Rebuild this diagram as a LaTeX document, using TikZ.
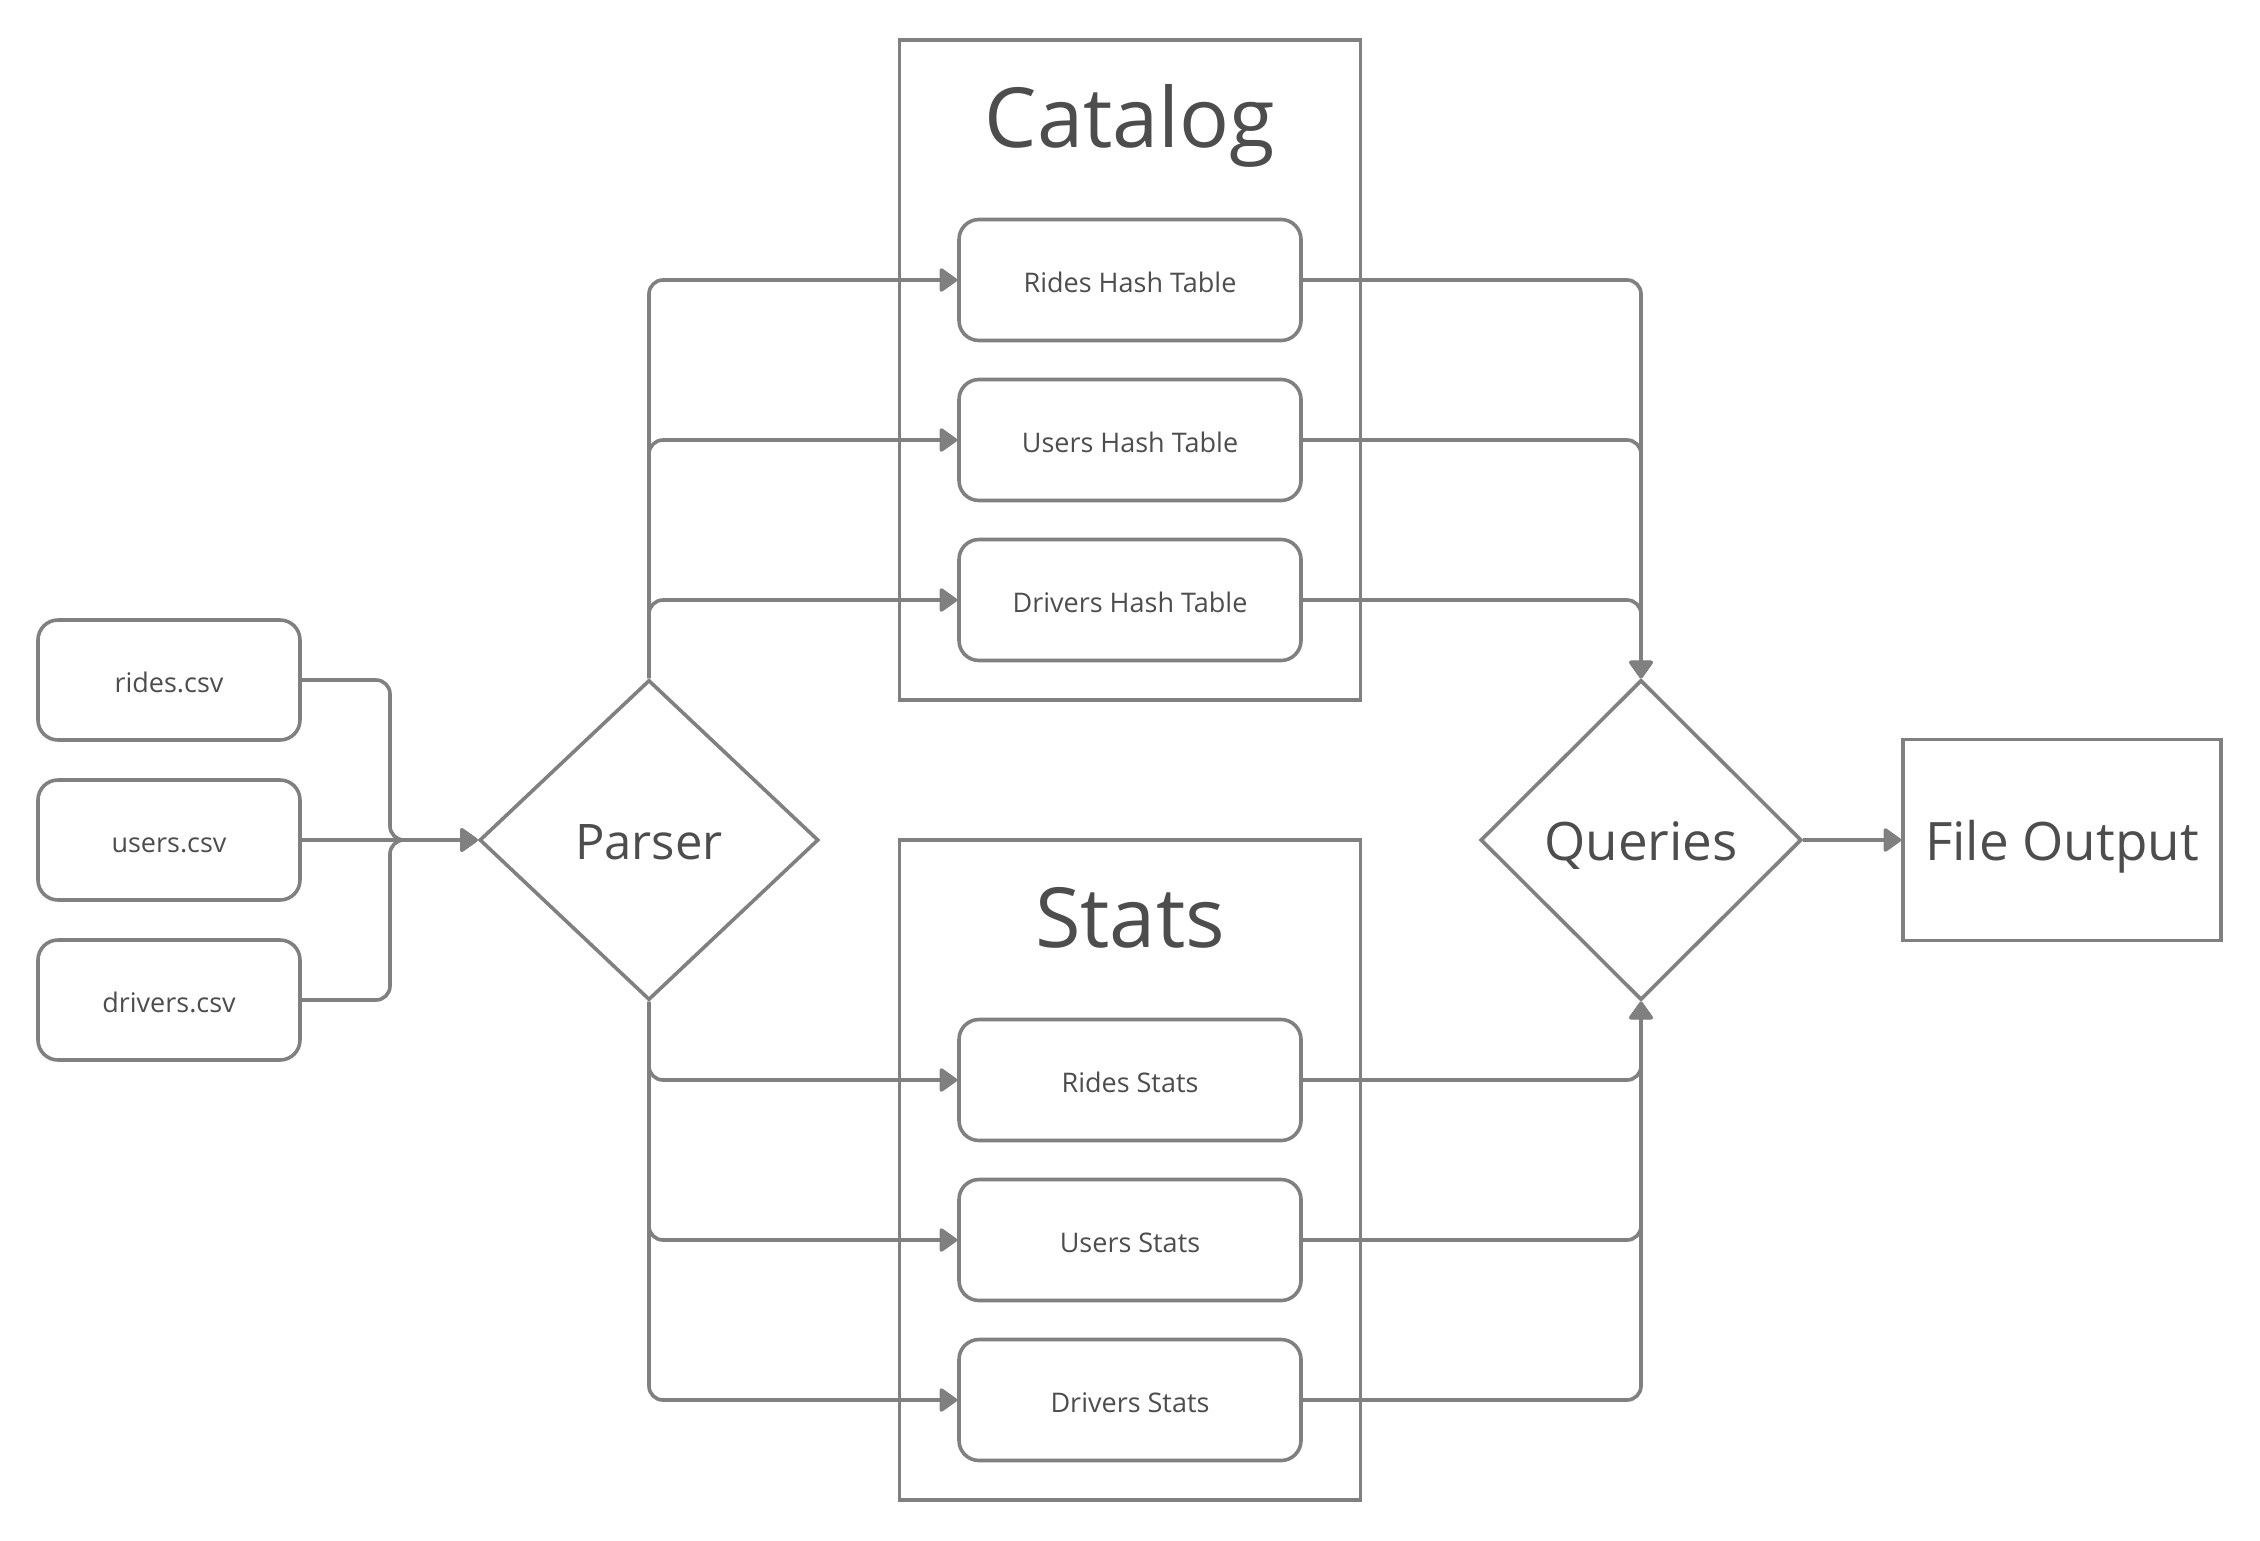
\documentclass[tikz,border=0pt]{standalone}
\usepackage{fontspec}
\setmainfont{Open Sans}
\usetikzlibrary{shapes.geometric,arrows.meta}
\definecolor{lineGray}{HTML}{808080}
\definecolor{textGray}{HTML}{4D4D4D}

\begin{document}
\begin{tikzpicture}[x=1pt, y=-1pt,
	every node/.style={text=textGray, inner sep=0pt},
	fileBox/.style={draw=lineGray, line width=3.6pt, rounded corners=20pt,
		minimum width=262pt, minimum height=120pt,
		font=\fontsize{27}{32}\selectfont, text height=24pt, text depth=0pt},
	tableBox/.style={fileBox, minimum width=342pt, minimum height=121pt,
		font=\fontsize{27}{32}\selectfont, text height=25pt},
	groupBox/.style={draw=lineGray, line width=3.6pt, minimum width=461pt, minimum height=660pt},
	groupTitle/.style={font=\fontsize{83}{98}\selectfont, anchor=base},
	decision/.style={diamond, draw=lineGray, line width=3.6pt,
		font=\fontsize{53}{62}\selectfont, text height=40pt, text depth=0pt},
	conn/.style={draw=lineGray, line width=3.6pt, rounded corners=14pt,
		-{Triangle[length=19pt, width=26pt, round]}},
]
	\useasboundingbox (0,0) rectangle (2260,1540);

	\def \csvX {169};
	\def \midX {1130};

%group boxes
	\node[groupBox] (catalogBox) at (\midX, 370) {};
	\node[groupBox] (statsBox) at (\midX, 1170) {};
	\node[groupTitle] (catalogTitle) at (\midX, 147) {Catalog};
	\node[groupTitle] (statsTitle) at (\midX, 947) {Stats};

%input files
	\node[fileBox] (ridesCsv) at (\csvX, 680) {rides.csv};
	\node[fileBox] (usersCsv) at (\csvX, 840) {users.csv};
	\node[fileBox] (driversCsv) at (\csvX, 1000) {drivers.csv};

	\node[decision, minimum width=339pt, minimum height=320pt,
		font=\fontsize{49}{58}\selectfont, text height=38pt] (parser) at (649, 840) {Parser};

%tables and stats
	\node[tableBox] (ridesHash) at (\midX, 280) {Rides Hash Table};
	\node[tableBox] (usersHash) at (\midX, 440) {Users Hash Table};
	\node[tableBox] (driversHash) at (\midX, 600) {Drivers Hash Table};
	\node[tableBox] (ridesStats) at (\midX, 1080) {Rides Stats};
	\node[tableBox] (usersStats) at (\midX, 1240) {Users Stats};
	\node[tableBox] (driversStats) at (\midX, 1400) {Drivers Stats};

	\node[decision, minimum width=321pt, minimum height=320pt] (queries) at (1641, 840) {Queries};
	\node[draw=lineGray, line width=3.6pt, minimum width=318pt, minimum height=201pt,
		font=\fontsize{53}{62}\selectfont, text height=40pt, text depth=0pt] (fileOut) at (2062, 840) {File Output};

%connectors
	\coordinate (csvJoin) at (390, 840);
	\draw[conn] (ridesCsv.east) -| (csvJoin) -- (parser.west);
	\draw[conn] (usersCsv.east) -- (parser.west);
	\draw[conn] (driversCsv.east) -| (csvJoin) -- (parser.west);

	\draw[conn] (parser.north) |- (ridesHash.west);
	\draw[conn] (parser.north) |- (usersHash.west);
	\draw[conn] (parser.north) |- (driversHash.west);
	\draw[conn] (parser.south) |- (ridesStats.west);
	\draw[conn] (parser.south) |- (usersStats.west);
	\draw[conn] (parser.south) |- (driversStats.west);

	\draw[conn] (ridesHash.east) -| (queries.north);
	\draw[conn] (usersHash.east) -| (queries.north);
	\draw[conn] (driversHash.east) -| (queries.north);
	\draw[conn] (ridesStats.east) -| (queries.south);
	\draw[conn] (usersStats.east) -| (queries.south);
	\draw[conn] (driversStats.east) -| (queries.south);

	\draw[conn] (queries.east) -- (fileOut.west);
\end{tikzpicture}
\end{document}
